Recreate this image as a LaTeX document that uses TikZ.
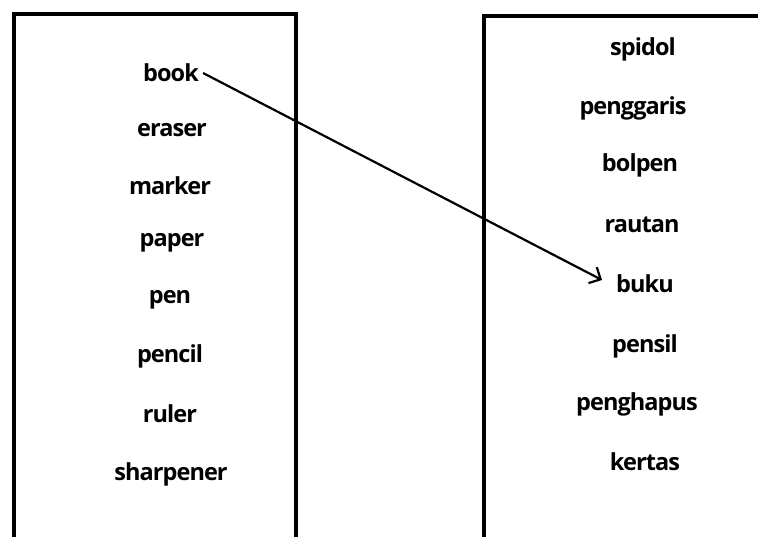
\documentclass[tikz,border=0pt]{standalone}
\usepackage{fontspec}
\setmainfont{Open Sans}[LetterSpace=-4]
\usetikzlibrary{arrows.meta}
\begin{document}
\begin{tikzpicture}[x=1pt,y=-1pt,
  word/.style={font=\fontsize{23.5}{25}\selectfont\bfseries, inner sep=1pt},
  frame/.style={line width=4pt, line join=miter},
  link/.style={line width=2.2pt, -{Straight Barb[length=9pt,width=18pt,line width=2.2pt]}}]
\useasboundingbox (0,0) rectangle (758,537);
\draw[frame] (14,540) -- (14,14) -- (296,14) -- (296,540);
\draw[frame] (484,540) -- (484,16) -- (770,16);
\node[word] (book) at (171,73) {book};
\node[word] (eraser) at (172,130) {eraser};
\node[word] (marker) at (170,186) {marker};
\node[word] (paper) at (172,243) {paper};
\node[word] (pen) at (170,300) {pen};
\node[word] (pencil) at (170,356) {pencil};
\node[word] (ruler) at (170,414) {ruler};
\node[word] (sharpener) at (171,474) {sharpener};
\node[word] (spidol) at (643,49) {spidol};
\node[word] (penggaris) at (633,108) {penggaris};
\node[word] (bolpen) at (640,165) {bolpen};
\node[word] (rautan) at (642,225) {rautan};
\node[word] (buku) at (645,284) {buku};
\node[word] (pensil) at (645,346) {pensil};
\node[word] (penghapus) at (637,404) {penghapus};
\node[word] (kertas) at (645,462) {kertas};
\coordinate (tip) at (602,280);
\draw[link] ([xshift=3pt]book.east) -- (tip);
\end{tikzpicture}
\end{document}
